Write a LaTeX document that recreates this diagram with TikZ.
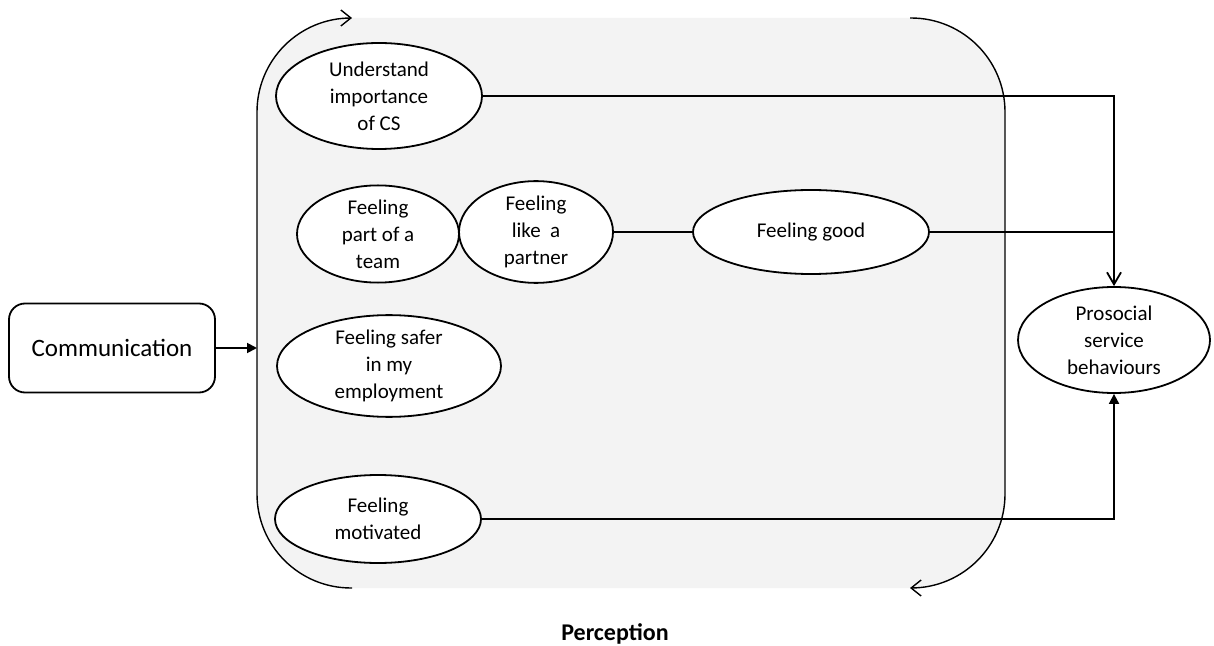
\documentclass[tikz,border=0pt]{standalone}
\usepackage{fontspec}
\setmainfont{Carlito}
\usetikzlibrary{shapes.geometric,arrows.meta}
\definecolor{panelgrey}{HTML}{F3F3F3}
\begin{document}
\begin{tikzpicture}[x=0.5pt,y=-0.5pt,
  oval/.style={draw, line width=0.9pt, ellipse, fill=white, inner sep=0pt, align=center,
    font=\fontsize{10.5}{13.5}\selectfont},
  conn/.style={line width=0.9pt},
  loop/.style={line width=0.7pt, rounded corners=47pt},
  openhead/.style={-{Straight Barb[length=5pt,width=8pt]}},
  fullhead/.style={-{Triangle[length=5pt,width=5pt]}}]
\useasboundingbox (0,0) rectangle (1214,646);
% perception panel
\fill[panelgrey, rounded corners=47pt] (257,18) rectangle (1005,588);
\draw[loop, openhead] (352,588) -- (257,588) -- (257,18) -- (352,18);
\draw[loop, openhead] (910,18) -- (1005,18) -- (1005,588) -- (910,588);
% nodes
\node[draw, line width=0.9pt, rounded corners=8pt, minimum width=103pt, minimum height=44.5pt,
  font=\fontsize{12.5}{15}\selectfont] (comm) at (112,348) {Communication};
\node[oval, minimum width=103pt, minimum height=53pt] (under) at (379,96) {Understand\\importance\\of CS};
\node[oval, minimum width=81pt, minimum height=44pt] (team) at (378,234) {Feeling\\part of a\\team};
\node[oval, minimum width=77pt, minimum height=45pt] (part) at (536,232) {Feeling\\like\ \ a\\partner};
\node[oval, minimum width=118pt, minimum height=42pt] (good) at (811,232) {Feeling good};
\node[oval, minimum width=112pt, minimum height=44pt] (safer) at (389,366) {Feeling safer\\in my\\employment};
\node[oval, minimum width=103pt, minimum height=44pt] (mot) at (378,519) {Feeling\\motivated};
\node[oval, minimum width=96pt, minimum height=53pt] (pro) at (1114,340) {Prosocial\\service\\behaviours};
\node[font=\bfseries\fontsize{12}{14}\selectfont] (perc) at (615,634) {Perception};
% connectors
\coordinate (pin) at (257,348);
\draw[conn, fullhead] (comm.east) -- (comm.east -| pin);
\draw[conn] (part.east) -- (good.west);
\draw[conn, -{Straight Barb[length=6pt,width=7pt]}] (under.east) -| (pro.north);
\draw[conn] (good.east) -- (good.east -| pro.north);
\draw[conn, fullhead] (mot.east) -| (pro.south);
\end{tikzpicture}
\end{document}
